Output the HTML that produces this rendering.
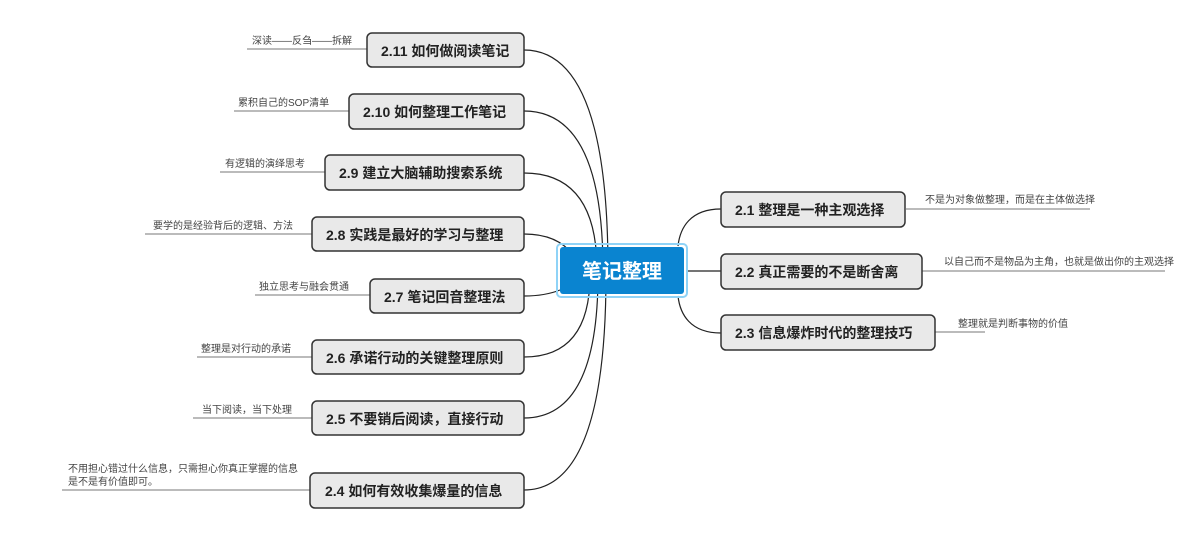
<!DOCTYPE html>
<html><head><meta charset="utf-8"><style>
body{margin:0;background:#fff;}
svg text{font-family:"Liberation Sans","Noto Sans CJK SC",sans-serif;}
.n{fill:#e9e9e9;stroke:#333;stroke-width:1.5;}
.t{font-size:14px;font-weight:bold;fill:#222;}
.s{font-size:10px;fill:#444;}
.c{fill:none;stroke:#222;stroke-width:1.2;}
.u{stroke:#777;stroke-width:1;}
</style></head><body>
<svg width="1192" height="532" xmlns="http://www.w3.org/2000/svg">
<!-- connectors left -->
<path class="c" d="M524,50 Q608,50 608,270"/>
<path class="c" d="M524,111 Q603,111 603,270"/>
<path class="c" d="M524,173 Q597,173 597,270"/>
<path class="c" d="M524,234 Q560,234 575,258"/>
<path class="c" d="M524,296 Q545,296 560,290"/>
<path class="c" d="M524,357 Q590,357 590,275"/>
<path class="c" d="M524,418 Q598,418 598,275"/>
<path class="c" d="M524,490 Q606,490 606,275"/>
<!-- connectors right -->
<path class="c" d="M721,209 C690,209 680,228 678,246"/>
<path class="c" d="M686,271 L721,271"/>
<path class="c" d="M721,333 C690,333 680,314 678,296"/>
<!-- underlines -->
<line class="u" x1="247" y1="49" x2="367" y2="49"/>
<line class="u" x1="234" y1="111" x2="349" y2="111"/>
<line class="u" x1="220" y1="172" x2="325" y2="172"/>
<line class="u" x1="145" y1="234" x2="312" y2="234"/>
<line class="u" x1="255" y1="295" x2="370" y2="295"/>
<line class="u" x1="197" y1="357" x2="312" y2="357"/>
<line class="u" x1="193" y1="418" x2="312" y2="418"/>
<line class="u" x1="62" y1="490" x2="310" y2="490"/>
<line class="u" x1="906" y1="209" x2="1090" y2="209"/>
<line class="u" x1="922" y1="271" x2="1165" y2="271"/>
<line class="u" x1="935" y1="332" x2="985" y2="332"/>
<!-- notes -->
<text class="s" x="252" y="44">深读——反刍——拆解</text>
<text class="s" x="238" y="106">累积自己的SOP清单</text>
<text class="s" x="225" y="167">有逻辑的演绎思考</text>
<text class="s" x="153" y="229">要学的是经验背后的逻辑、方法</text>
<text class="s" x="259" y="290">独立思考与融会贯通</text>
<text class="s" x="201" y="352">整理是对行动的承诺</text>
<text class="s" x="202" y="413">当下阅读，当下处理</text>
<text class="s" x="68" y="472">不用担心错过什么信息，只需担心你真正掌握的信息</text>
<text class="s" x="68" y="485">是不是有价值即可。</text>
<text class="s" x="925" y="203">不是为对象做整理，而是在主体做选择</text>
<text class="s" x="944" y="265">以自己而不是物品为主角，也就是做出你的主观选择</text>
<text class="s" x="958" y="327">整理就是判断事物的价值</text>
<!-- left nodes -->
<rect class="n" x="367" y="33" width="157" height="34" rx="5"/><text class="t" x="381" y="56">2.11 如何做阅读笔记</text>
<rect class="n" x="349" y="94" width="175" height="35" rx="5"/><text class="t" x="363" y="117">2.10 如何整理工作笔记</text>
<rect class="n" x="325" y="155" width="199" height="35" rx="5"/><text class="t" x="339" y="178">2.9 建立大脑辅助搜索系统</text>
<rect class="n" x="312" y="217" width="212" height="34" rx="5"/><text class="t" x="326" y="240">2.8 实践是最好的学习与整理</text>
<rect class="n" x="370" y="279" width="154" height="34" rx="5"/><text class="t" x="384" y="302">2.7 笔记回音整理法</text>
<rect class="n" x="312" y="340" width="212" height="34" rx="5"/><text class="t" x="326" y="363">2.6 承诺行动的关键整理原则</text>
<rect class="n" x="312" y="401" width="212" height="34" rx="5"/><text class="t" x="326" y="424">2.5 不要销后阅读，直接行动</text>
<rect class="n" x="310" y="473" width="214" height="35" rx="5"/><text class="t" x="325" y="496">2.4 如何有效收集爆量的信息</text>
<!-- right nodes -->
<rect class="n" x="721" y="192" width="184" height="35" rx="5"/><text class="t" x="735" y="215">2.1 整理是一种主观选择</text>
<rect class="n" x="721" y="254" width="201" height="35" rx="5"/><text class="t" x="735" y="277">2.2 真正需要的不是断舍离</text>
<rect class="n" x="721" y="315" width="214" height="35" rx="5"/><text class="t" x="735" y="338">2.3 信息爆炸时代的整理技巧</text>
<!-- central -->
<rect x="557" y="244" width="130" height="53" rx="4" fill="none" stroke="#8fd3f7" stroke-width="2"/>
<rect x="560" y="247" width="124" height="47" rx="3" fill="#0a84d0"/>
<text x="622" y="278" text-anchor="middle" font-size="20" font-weight="bold" fill="#fff">笔记整理</text>
</svg>
</body></html>
